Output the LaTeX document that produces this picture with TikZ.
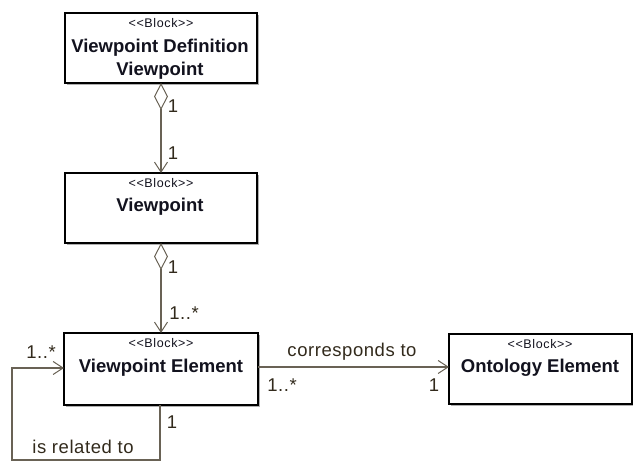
\documentclass[tikz,border=0pt]{standalone}
\usepackage{fontspec}
\setmainfont{Liberation Sans}
\newfontfamily\stereofont[LetterSpace=5]{Liberation Sans}
\newfontfamily\labelfont[LetterSpace=3]{Liberation Sans}
\usetikzlibrary{arrows.meta}
\definecolor{linecol}{RGB}{105,98,85}
\definecolor{labelcol}{RGB}{50,42,28}
\definecolor{namecol}{RGB}{18,18,30}
\definecolor{shadowcol}{RGB}{175,175,175}
\begin{document}
\begin{tikzpicture}[x=1pt,y=-1pt,
  block/.style={draw=black,line width=1.3pt,fill=white,inner sep=0pt},
  shadowbox/.style={fill=shadowcol},
  stereo/.style={font=\stereofont\fontsize{12.5}{14}\selectfont,text=namecol,inner sep=0pt},
  bname/.style={font=\bfseries\fontsize{18.5}{21}\selectfont,text=namecol,inner sep=0pt},
  lbl/.style={font=\labelfont\fontsize{18.5}{21}\selectfont,text=labelcol,inner sep=0pt},
  conn/.style={draw=linecol,line width=1.1pt},
  openhead/.style={-{Straight Barb[length=10pt,width=13pt,line width=1pt]}},
  aggr/.style={{Diamond[open,length=27pt,width=14pt,line width=1pt]}-{Straight Barb[length=10pt,width=13pt,line width=1pt]}}
]
\useasboundingbox (0,0) rectangle (633,462);

% drop shadows of the blocks
\fill[shadowbox] (67,15) rectangle (259,85);
\fill[shadowbox] (67,175) rectangle (259,245);
\fill[shadowbox] (66,335) rectangle (260,407);
\fill[shadowbox] (451,336) rectangle (634,406);

% blocks
\draw[block] (65,13) rectangle (257,83);
\coordinate (b1top) at (161,13);
\coordinate (b1bot) at (161,83);
\node[stereo] (s1) at (161,23) {<<Block>>};
\node[bname] (n1a) at (160,48) {Viewpoint Definition};
\node[bname] (n1b) at (160,71) {Viewpoint};

\draw[block] (65,173) rectangle (257,243);
\coordinate (b2top) at (161,173);
\coordinate (b2bot) at (161,243);
\node[stereo] (s2) at (161,183) {<<Block>>};
\node[bname] (n2) at (160,207) {Viewpoint};

\draw[block] (64,333) rectangle (258,405);
\coordinate (b3top) at (161,333);
\coordinate (b3bot) at (160,405);
\coordinate (b3left) at (64,368);
\coordinate (b3right) at (258,367);
\node[stereo] (s3) at (161,343) {<<Block>>};
\node[bname] (n3) at (161,368) {Viewpoint Element};

\draw[block] (449,334) rectangle (632,404);
\coordinate (b4left) at (449,367);
\node[stereo] (s4) at (540,344) {<<Block>>};
\node[bname] (n4) at (540,368) {Ontology Element};

% composition connectors
\draw[conn,aggr] (b1bot) -- (b2top);
\node[lbl] (m1) at (173,106) {1};
\node[lbl] (m2) at (173,153) {1};

\draw[conn,aggr] (b2bot) -- (b3top);
\node[lbl] (m3) at (173,267) {1};
\node[lbl] (m4) at (184,313) {1..*};

% association to ontology element
\draw[conn,openhead] (b3right) -- (b4left);
\node[lbl] (corr) at (352,352) {corresponds to};
\node[lbl] (m5) at (282,385) {1..*};
\node[lbl] (m6) at (434,385) {1};

% self association
\coordinate (c1) at (160,460);
\coordinate (c2) at (12,460);
\coordinate (c3) at (12,368);
\draw[conn,openhead] (b3bot) -- (c1) -- (c2) -- (c3) -- (b3left);
\node[lbl] (m7) at (172,422) {1};
\node[lbl] (rel) at (83,447) {is related to};
\node[lbl] (m8) at (41,352) {1..*};
\end{tikzpicture}
\end{document}
